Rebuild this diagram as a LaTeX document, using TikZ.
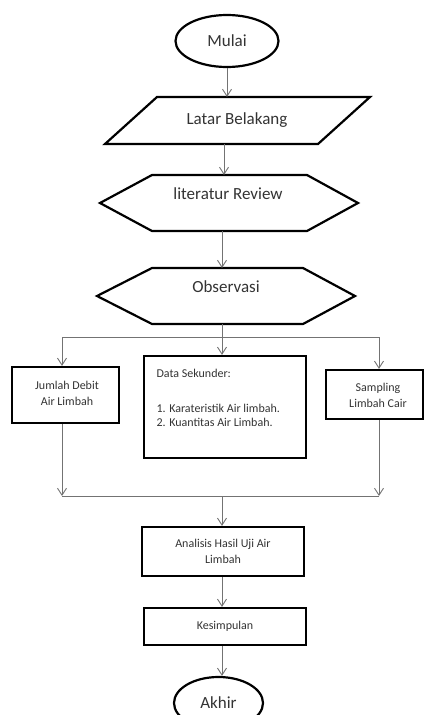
\documentclass[tikz,border=0pt]{standalone}
\usepackage{fontspec}
\setmainfont{Carlito}
\usetikzlibrary{arrows.meta,shapes.geometric}
\begin{document}
\begin{tikzpicture}[x=1pt,y=-1pt,
  shp/.style={draw=black,line width=2.2pt,line join=miter},
  boxnode/.style={shp,rectangle,inner sep=0pt},
  conn/.style={draw=black!55,line width=0.9pt},
  arr/.style={conn,-{Straight Barb[length=7pt,width=9pt,line width=0.9pt]}},
  big/.style={font=\fontsize{17}{20}\selectfont,text=black!80},
  small/.style={font=\fontsize{12}{16}\selectfont,text=black!80,align=center},
]
\useasboundingbox (0,0) rectangle (425,715);
\clip (0,0) rectangle (425,715);

% Mulai
\node[shp,ellipse,minimum width=103pt,minimum height=52pt,inner sep=0pt,big] (mulai) at (227,41) {Mulai};

% Latar Belakang
\draw[shp] (157,97) -- (370,97) -- (318,144) -- (105,144) -- cycle;
\node[big] (latar) at (237,120) {Latar Belakang};
\coordinate (latarT) at (227,97);
\coordinate (latarB) at (224,144);

% literatur Review
\draw[shp] (152,175) -- (307,175) -- (358,203) -- (307,231) -- (152,231) -- (100,203) -- cycle;
\node[big] (lit) at (228,194) {literatur Review};
\coordinate (litT) at (224,175);
\coordinate (litB) at (222,231);

% Observasi
\draw[shp] (152,268) -- (303,268) -- (355,296) -- (303,324) -- (152,324) -- (97,296) -- cycle;
\node[big] (obs) at (226,287) {Observasi};
\coordinate (obsT) at (222,268);
\coordinate (obsB) at (222,324);

% branch coordinates
\coordinate (brC) at (222,337);
\coordinate (brL) at (62,337);
\coordinate (brR) at (379,337);

% three boxes
\node[boxnode,minimum width=107pt,minimum height=56pt] (jumlah) at (65.5,395) {};
\node[small] (jumlahtxt) at (67,393) {Jumlah Debit\\Air Limbah};
\node[boxnode,minimum width=162pt,minimum height=102pt] (data) at (225,407) {};
\node[small,align=left,anchor=north west] (datatxt) at (153,366) {Data Sekunder:\\[19pt]1. Karateristik Air limbah.\\[-2pt]2. Kuantitas Air Limbah.};
\node[boxnode,minimum width=97pt,minimum height=49pt] (samp) at (374.5,394.5) {};
\node[small] (samptxt) at (378,395) {Sampling\\Limbah Cair};

% merge coordinates
\coordinate (mgL) at (62,496);
\coordinate (mgR) at (379,496);
\coordinate (mgC) at (222,496);

% Analisis
\node[boxnode,minimum width=162pt,minimum height=49pt,small] (anal) at (223,551.5) {Analisis Hasil Uji Air\\Limbah};
% Kesimpulan
\node[boxnode,minimum width=162pt,minimum height=37pt,small] (kes) at (225,626.5) {Kesimpulan};
% Akhir
\node[shp,ellipse,minimum width=89pt,minimum height=52pt,inner sep=0pt,big] (akhir) at (218.5,703) {Akhir};

% connectors
\draw[arr] (mulai.south) -- (latarT);
\draw[arr] (latarB) -- (litT);
\draw[arr] (litB) -- (obsT);
\draw[conn] (obsB) -- (brC);
\draw[conn] (brL) -- (brR);
\draw[arr] (brL) -- (brL |- jumlah.north);
\draw[arr] (brC) -- (brC |- data.north);
\draw[arr] (brR) -- (brR |- samp.north);
\draw[arr] (jumlah.south -| mgL) -- (mgL);
\draw[arr] (samp.south -| mgR) -- (mgR);
\draw[conn] (mgL) -- (mgR);
\draw[arr] (mgC) -- (mgC |- anal.north);
\draw[arr] (anal.south -| mgC) -- (mgC |- kes.north);
\draw[arr] (kes.south -| mgC) -- (mgC |- akhir.north);
\end{tikzpicture}
\end{document}
